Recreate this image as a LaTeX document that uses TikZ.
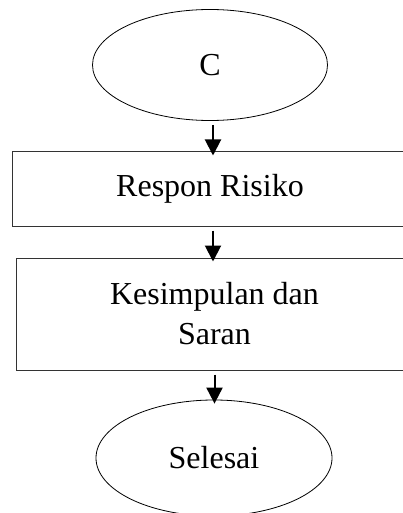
\documentclass[tikz,border=0pt]{standalone}
\usepackage{fontspec}
\setmainfont{Liberation Serif}
\usetikzlibrary{shapes.geometric,arrows.meta}
\begin{document}
\begin{tikzpicture}[x=1pt,y=-1pt,
  every node/.style={font=\fontsize{32}{40}\selectfont},
  terminal/.style={draw=black,line width=0.8pt,ellipse,inner sep=0pt},
  process/.style={draw=black!80,line width=1pt,rectangle,inner sep=0pt,align=center},
  flow/.style={line width=2pt,-{Triangle[width=16pt,length=16pt]},shorten <=4pt,shorten >=-4pt}]
\useasboundingbox (0,0) rectangle (403,513);
\clip (0,0) rectangle (403,513);
\fill[white] (0,0) rectangle (403,513);
% flowchart nodes
\node[terminal,minimum width=235pt,minimum height=111pt] (c) at (210,65) {C};
\node[process,minimum width=396pt,minimum height=74pt] (respon) at (210,189) {Respon Risiko};
\node[process,minimum width=397pt,minimum height=112pt] (simpul) at (214.5,314) {Kesimpulan dan\\Saran};
\node[terminal,minimum width=236pt,minimum height=116pt] (selesai) at (214,458) {Selesai};
% connectors
\draw[flow] ([xshift=3pt]c.south) -- ([xshift=3pt]c.south |- respon.north);
\draw[flow] ([xshift=3pt]respon.south) -- ([xshift=3pt]respon.south |- simpul.north);
\draw[flow] (simpul.south) -- (simpul.south |- selesai.north);
\end{tikzpicture}
\end{document}
